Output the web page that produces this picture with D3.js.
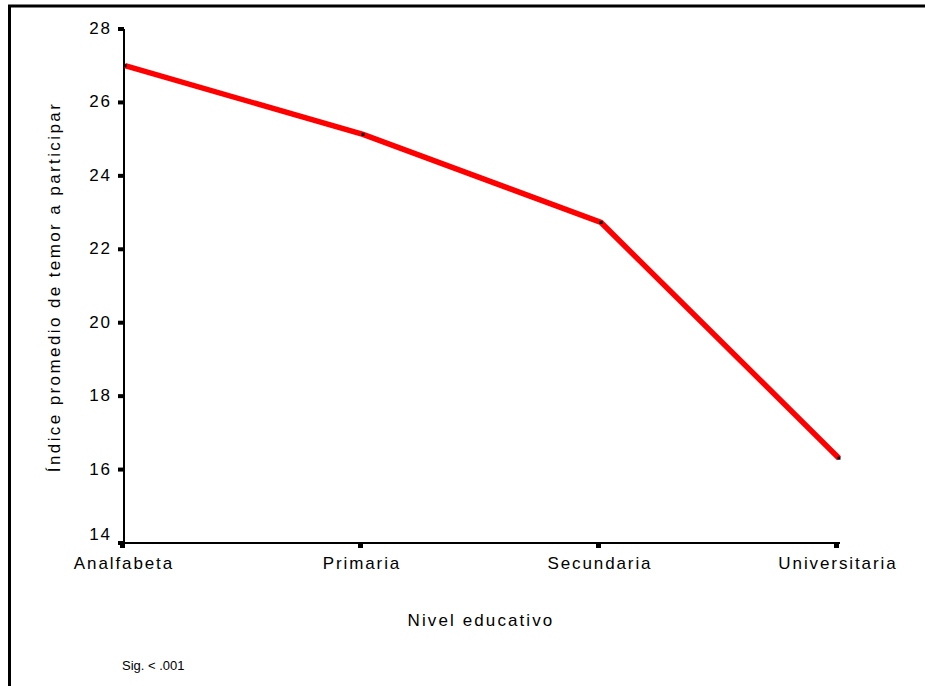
<!DOCTYPE html>
<html><head><meta charset="utf-8">
<script src="https://cdn.jsdelivr.net/npm/d3@7"></script>
<style>body{margin:0;background:#fff}svg{display:block}text{font-family:"Liberation Sans",Arial,sans-serif;fill:#000}</style>
</head><body>
<script>
const categories = ["Analfabeta","Primaria","Secundaria","Universitaria"];
const values = [27.0, 25.13, 22.73, 16.31];
const yTicks = [14,16,18,20,22,24,26,28];
const yTitle = "Índice promedio de temor a participar";
const xTitle = "Nivel educativo";
const note = "Sig. < .001";

const W = 925, H = 686;
const svg = d3.select("body").append("svg").attr("width", W).attr("height", H);
svg.append("rect").attr("x",9.5).attr("y",6).attr("width",W+20).attr("height",H+20)
  .attr("fill","none").attr("stroke","#000").attr("stroke-width",3);

const x = d3.scalePoint().domain(categories).range([125, 839]);
const y = d3.scaleLinear().domain([14,28]).range([543, 29]);
const LS = 1.9;

// y axis
const gy = svg.append("g");
gy.append("line").attr("x1",124).attr("x2",124).attr("y1",y(28)).attr("y2",y(14)).attr("stroke","#000").attr("stroke-width",2);
gy.selectAll("rect.t").data(yTicks).join("rect").attr("x",118).attr("y",d=>y(d)-2).attr("width",6).attr("height",4).attr("fill","#000");
gy.selectAll("text").data(yTicks).join("text")
  .attr("x",110+LS).attr("y",d=>y(d)+(d===14?-3:5)).attr("text-anchor","end")
  .attr("font-size",17).attr("letter-spacing",LS).text(d=>d);

// x axis
const gx = svg.append("g");
gx.append("line").attr("x1",123).attr("x2",x(categories[3])+1).attr("y1",543).attr("y2",543).attr("stroke","#000").attr("stroke-width",2);
gx.selectAll("rect").data(categories).join("rect").attr("x",d=>x(d)-5).attr("y",542).attr("width",5).attr("height",6).attr("fill","#000");
gx.selectAll("text").data(categories).join("text").attr("x",d=>x(d)-2+LS/2).attr("y",569).attr("text-anchor","middle")
  .attr("font-size",17).attr("letter-spacing",LS).text(d=>d);

// line
const line = d3.line().x((d,i)=>x(categories[i])).y(d=>y(d));
svg.append("path").datum(values).attr("d",line).attr("fill","none").attr("stroke","#ff0000").attr("stroke-width",5.5).attr("stroke-linejoin","miter");
svg.selectAll("rect.m").data(values).join("rect").attr("class","m")
  .attr("x",(d,i)=>x(categories[i])-1.5).attr("y",d=>y(d)-1.5).attr("width",3).attr("height",3).attr("fill","#000");

svg.append("text").attr("transform","translate(60,287) rotate(-90)").attr("text-anchor","middle")
  .attr("font-size",17).attr("letter-spacing",2.4).text(yTitle);
svg.append("text").attr("x",481).attr("y",626).attr("text-anchor","middle")
  .attr("font-size",17).attr("letter-spacing",2.1).text(xTitle);
svg.append("text").attr("x",122).attr("y",670).attr("font-size",13).text(note);
</script>
</body></html>
